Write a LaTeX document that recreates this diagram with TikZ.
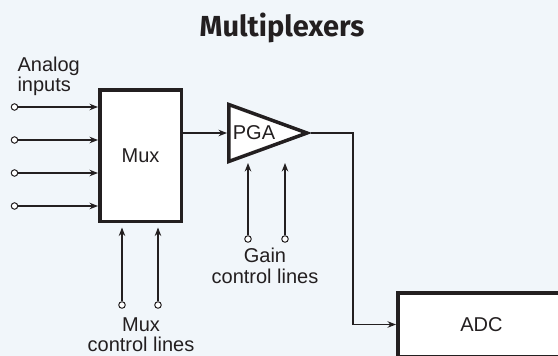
\documentclass[tikz,border=0pt]{standalone}
\usepackage{fontspec}
\setmainfont{Liberation Sans}
\newfontfamily\titlefont{Fira Sans}
\usetikzlibrary{arrows.meta}
\definecolor{bgblue}{HTML}{F1F6FA}
\definecolor{ink}{HTML}{231F20}

\begin{document}
\begin{tikzpicture}[x=1pt, y=-1pt, line width=1.1pt, draw=ink, text=ink,
		>={Stealth[length=8.5pt, width=6.5pt]},
		port/.style={circle, draw=ink, fill=white, line width=1pt, inner sep=0pt, minimum size=6.5pt},
		block/.style={draw=ink, fill=white, line width=3.5pt, inner sep=0pt},
		lbl/.style={font=\fontsize{20}{20.5}\selectfont, align=center, inner sep=0pt}]
		\fill[bgblue] (0,0) rectangle (558,356);
		\useasboundingbox (0,0) rectangle (558,356);
		\clip (0,0) rectangle (558,356);
		% title
		\node[font=\titlefont\bfseries\fontsize{29}{29}\selectfont, anchor=base] (title) at (282,37) {Multiplexers};
		% mux block and analog inputs
		\node[block, lbl, minimum width=81.5pt, minimum height=131.5pt] (mux) at (140.5,155.5) {Mux};
		\node[lbl, align=left, anchor=base west] (inlbl) at (17,92) {Analog\\inputs};
		\node[port] (in1) at (14.5,107) {};
		\node[port] (in2) at (14.5,140) {};
		\node[port] (in3) at (14.5,173) {};
		\node[port] (in4) at (14.5,206) {};
		\draw[->] (in1) -- (in1 -| mux.west);
		\draw[->] (in2) -- (in2 -| mux.west);
		\draw[->] (in3) -- (in3 -| mux.west);
		\draw[->] (in4) -- (in4 -| mux.west);
		% mux control lines
		\node[port] (mc1) at (122,305) {};
		\node[port] (mc2) at (158,305) {};
		\draw[->, shorten >=4.5pt] (mc1) -- (mc1 |- mux.south);
		\draw[->, shorten >=4.5pt] (mc2) -- (mc2 |- mux.south);
		\node[lbl, anchor=base] (mclbl) at (141,351.5) {Mux\\control lines};
		% programmable gain amplifier
		\draw[line width=3.5pt, fill=white] (228.75,104.5) -- (228.75,161.5) -- (307,133) -- cycle;
		\coordinate (pgain) at (227,133);
		\coordinate (pgaout) at (311,133);
		\node[lbl] (pga) at (254,132.5) {PGA};
		\draw[->] (mux.east |- pgain) -- (pgain);
		% gain control lines
		\coordinate (gtip) at (266,163);
		\node[port] (gc1) at (248,239) {};
		\node[port] (gc2) at (285,239) {};
		\draw[->] (gc1) -- (gc1 |- gtip);
		\draw[->] (gc2) -- (gc2 |- gtip);
		\node[lbl, anchor=base] (gclbl) at (265,283) {Gain\\control lines};
		% converter
		\node[block, lbl, minimum width=167.5pt, minimum height=63.5pt] (adc) at (481.5,324.5) {ADC};
		\draw[->] (pgaout) -- ++(42,0) |- (adc.west);
	\end{tikzpicture}
\end{document}
